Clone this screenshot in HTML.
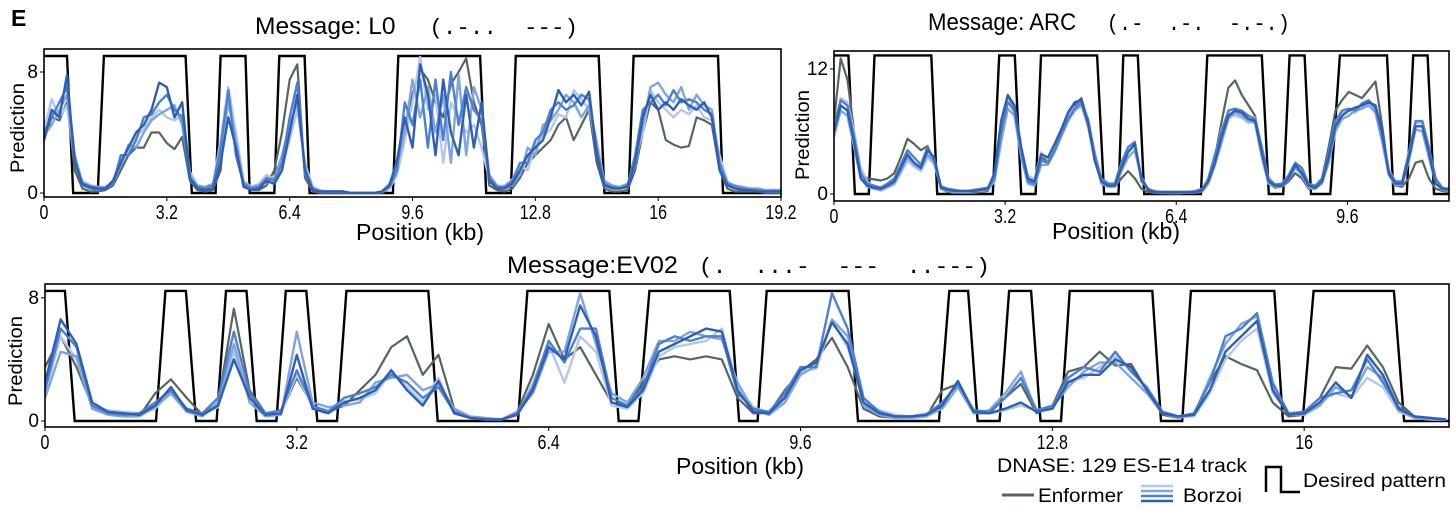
<!DOCTYPE html>
<html><head><meta charset="utf-8"><style>
html,body{margin:0;padding:0;background:#fff;}
svg{display:block;font-family:"Liberation Sans Narrow","Liberation Sans",sans-serif;}
.mono{font-family:"Liberation Mono","DejaVu Sans Mono",monospace;}
</style></head><body>
<svg id="fig" width="1456" height="513" viewBox="0 0 1456 513" xmlns="http://www.w3.org/2000/svg">
<text x="11" y="26" font-size="23" font-weight="bold" font-family="Liberation Sans, sans-serif">E</text>
<text x="255" y="34" font-size="24" textLength="323" lengthAdjust="spacingAndGlyphs">Message: L0 <tspan class="mono" font-size="22" xml:space="preserve">  (.-..  ---)</tspan></text>
<text x="928" y="30" font-size="24" textLength="362" lengthAdjust="spacingAndGlyphs">Message: ARC <tspan class="mono" font-size="22" xml:space="preserve">  (.-  .-.  -.-.)</tspan></text>
<text x="507" y="273" font-size="24" textLength="483" lengthAdjust="spacingAndGlyphs">Message:EV02 <tspan class="mono" font-size="22" xml:space="preserve"> (.  ...-  ---  ..---)</tspan></text>
<g id="p1"></g>
<g id="p2"></g>
<g id="p3"></g>
<g>
<text x="997" y="472" font-size="19" textLength="250" lengthAdjust="spacingAndGlyphs">DNASE: 129 ES-E14 track</text>
<line x1="1002" y1="495" x2="1034" y2="495" stroke="#56665e" stroke-width="3"/>
<text x="1038" y="502" font-size="19" textLength="85" lengthAdjust="spacingAndGlyphs">Enformer</text>
<line x1="1141" y1="486" x2="1173" y2="486" stroke="#b3c7ec" stroke-width="2.5"/>
<line x1="1141" y1="491" x2="1173" y2="491" stroke="#80a4df" stroke-width="2.5"/>
<line x1="1141" y1="496" x2="1173" y2="496" stroke="#4d80cf" stroke-width="2.5"/>
<line x1="1141" y1="501" x2="1173" y2="501" stroke="#2f5fb3" stroke-width="2.5"/>
<text x="1183" y="502" font-size="19" textLength="59" lengthAdjust="spacingAndGlyphs">Borzoi</text>
<path d="M1266,492 L1266,467 L1281,467 L1281,492 L1300,492" fill="none" stroke="#000" stroke-width="2.5"/>
<text x="1303" y="487" font-size="19" textLength="143" lengthAdjust="spacingAndGlyphs">Desired pattern</text>
</g>
</svg>
<script>
// ---------- Panel 1: L0 ----------
const p1Step = 0.2;
const p1PatternX = [0,0.6,0.76,1.40,1.56,3.69,3.85,4.47,4.60,5.25,5.36,6.00,6.13,6.79,6.92,9.09,9.23,11.36,11.52,12.16,12.29,14.45,14.60,15.23,15.36,17.56,17.69,19.2];
const p1PatternOn = [1,1,0,0,1,1,0,0,1,1,0,0,1,1,0,0,1,1,0,0,1,1,0,0,1,1,0,0];
const p1Enformer = [3.5,5.0,4.8,6.0,1.5,0.3,0.1,0.1,0.2,0.5, 1.5,2.5,3.0,3.0,4.0,4.0,3.3,2.9,3.7,0.8, 0.2,0.1,0.2,1.5,7.0,3.5,0.5,0.2,0.2,0.5, 1.5,4.0,7.5,8.5,1.0,0.1,0,0,0,0, 0,0,0,0,0,0.3,2.0,4.0,6.5,8.2, 7.5,6.0,5.0,7.2,8.0,8.9,6.0,4.5,0.5,0.2, 0.1,0.3,1.0,2.0,2.5,3.0,3.5,4.5,5.0,3.5, 4.5,5.5,2.0,0.3,0.1,0.1,0.2,1.5,4.0,6.0, 5.5,3.5,3.2,3.0,3.1,5.0,4.8,4.5,1.5,0.3, 0.1,0.1,0.1,0.1,0,0,0];
const p1Borzoi1 = [3.5,5.5,5.0,7.8,2.0,0.6,0.4,0.3,0.3,0.8, 2.0,3.0,4.0,4.5,5.5,7.3,7.0,5.0,6.0,1.0, 0.3,0.2,0.3,2.0,5.0,3.0,0.4,0.2,0.3,0.8, 0.6,1.5,4.0,6.5,1.5,0.2,0.1,0.1,0.1,0.1, 0,0,0,0,0.1,0.5,2.2,5.0,3.0,8.5, 6.5,2.5,7.5,4.0,2.5,6.5,3.0,6.0,0.8,0.3, 0.3,0.6,1.5,2.5,3.0,3.5,5.0,6.8,6.0,6.5, 5.8,6.7,2.5,0.5,0.3,0.3,0.4,2.0,5.0,6.5, 5.5,6.0,5.5,6.2,5.8,5.5,6.0,5.0,1.5,0.5, 0.3,0.2,0.2,0.1,0.1,0.1,0.1];
const p1Borzoi2 = [4.0,5.0,6.0,7.0,2.5,0.5,0.3,0.2,0.3,0.6, 2.5,2.5,3.5,5.0,5.2,6.0,6.5,5.5,5.0,0.9, 0.4,0.3,0.5,3.0,6.8,2.5,0.6,0.3,0.4,1.0, 0.8,2.0,5.0,7.3,1.2,0.3,0.1,0.1,0.1,0.1, 0,0,0,0,0.1,0.4,1.5,6.0,4.5,7.5, 3.0,7.5,3.5,8.0,4.5,7.0,5.5,4.8,1.0,0.4, 0.4,0.8,2.0,2.0,3.5,4.0,5.5,6.0,5.5,5.8, 6.5,6.2,3.0,0.6,0.4,0.3,0.5,2.5,5.5,6.0, 6.5,5.8,6.8,6.0,6.2,6.0,5.5,5.2,2.0,0.6, 0.4,0.3,0.2,0.2,0.1,0.1,0.1];
const p1Borzoi3 = [3.8,4.5,5.5,6.5,2.0,0.7,0.5,0.4,0.4,0.7, 1.8,3.2,3.0,4.0,4.8,5.2,5.5,5.8,4.5,1.2, 0.5,0.4,0.6,2.5,6.0,3.5,0.7,0.4,0.5,0.9, 1.0,2.5,4.5,6.0,1.8,0.3,0.1,0.1,0.1,0.1, 0,0,0,0,0.1,0.6,1.8,4.0,7.5,5.0, 7.0,4.0,6.5,2.0,7.8,2.5,7.0,5.5,1.2,0.5, 0.3,0.5,1.2,3.0,2.5,4.5,4.8,5.5,6.5,6.0, 5.0,5.8,2.8,0.8,0.5,0.4,0.6,1.8,4.5,7.0, 7.3,6.5,6.0,7.0,5.5,6.5,5.8,5.5,1.8,0.7, 0.5,0.4,0.3,0.3,0.2,0.2,0.2];
const p1Borzoi4 = [4.2,6.2,5.0,5.8,2.4,0.8,0.5,0.4,0.3,0.9, 2.2,2.8,3.8,4.2,5.0,5.5,5.0,4.8,5.2,1.4, 0.5,0.3,0.5,3.5,7.0,4.0,0.8,0.4,0.6,1.2, 0.9,1.8,3.5,5.5,2.0,0.4,0.2,0.1,0.1,0.1, 0,0,0,0,0.1,0.3,1.2,3.5,6.0,9.0, 5.5,6.5,2.0,6.0,5.0,4.0,4.5,3.0,0.9,0.4, 0.5,0.9,1.8,1.5,3.2,3.8,4.2,5.2,5.0,6.8, 6.2,5.5,3.5,0.7,0.4,0.3,0.5,2.2,4.0,6.8, 6.0,5.5,5.0,5.5,5.2,5.8,5.0,4.8,2.5,0.8, 0.3,0.3,0.2,0.2,0.1,0.1,0.1];
const p1XTicks = [0,3.2,6.4,9.6,12.8,16,19.2];
const p1XTickLabels = ["0","3.2","6.4","9.6","12.8","16","19.2"];
const p1YTicks = [0,8];

// ---------- Panel 2: ARC ----------
const p2Step = 0.125;
const p2PatternX = [0,0.269,0.391,0.65,0.757,1.82,1.93,2.97,3.09,3.38,3.50,3.77,3.87,4.92,5.05,5.32,5.41,5.68,5.80,6.86,6.98,8.0,8.13,8.40,8.52,8.80,8.92,9.28,9.46,10.34,10.46,10.71,10.83,11.10,11.22,11.5];
const p2PatternOn = [1,1,0,0,1,1,0,0,1,1,0,0,1,1,0,0,1,1,0,0,1,1,0,0,1,1,0,0,1,1,0,0,1,1,0,0];
const p2Enformer = [7,13,11,6,2,1.5,1.4,1.3, 1.5,2.0,3.5,5.3,4.8,4.2,4.6,3.0, 0.5,0.2,0.1,0.1,0.1,0.1,0.2,0.3, 1.5,6,9.2,8,4,1.5,1.0,3.5, 3.2,4.5,6,7.5,8.5,9.2,7,3.5, 1.5,0.8,0.7,1.5,2.2,1.5,0.5,0.2, 0.1,0.1,0.1,0.1,0.1,0.1,0.1,0.2, 1.0,3.5,7,10.2,10.9,9.5,8.5,7.5, 4.0,1.0,0.6,0.7,1.2,2.0,1.5,0.5, 0.5,1.5,4.5,8.0,9.0,9.8,9.5,9.2, 10.0,10.8,6.5,2.0,0.8,0.7,1.5,3.0, 3.2,1.5,0.5,0.3,0.2];
const p2Borzoi1 = [6,8.5,8,5,1.5,0.8,0.6,0.5, 0.8,1.2,2.5,3.8,3.0,2.5,4.2,3.5, 0.6,0.4,0.3,0.3,0.3,0.3,0.4,0.5, 2,7,9.5,8.5,4.5,1.5,1.2,3.8, 3.5,4.8,6.2,7.8,8.8,9.0,6.8,3.2, 1.2,0.8,0.8,2.5,4.0,4.8,1.5,0.4, 0.2,0.2,0.2,0.2,0.2,0.2,0.2,0.4, 1.2,3.0,5.5,7.5,8.0,7.8,7.2,7.0, 4.0,1.2,0.8,0.8,1.5,2.8,2.0,0.8, 0.6,1.2,3.5,6.5,7.5,8.0,8.3,8.5, 8.8,8.5,6.0,2.0,1.0,1.0,3.5,6.5, 6.5,4.0,1.0,0.5,0.4];
const p2Borzoi2 = [6.5,9.0,8.5,5.5,2,1,0.8,0.6, 1.0,1.5,2.8,4.2,3.5,2.8,4.5,3.2, 0.7,0.5,0.4,0.3,0.3,0.4,0.5,0.6, 1.5,6,8.8,8,4,1.2,1,3.2, 3.0,4.2,5.8,7.2,8.2,8.8,7.2,3.8, 1.5,1.0,1.0,3.0,4.5,5.0,1.2,0.5, 0.2,0.1,0.1,0.1,0.1,0.2,0.2,0.3, 1.5,3.8,6.0,8.0,8.2,8.0,7.5,7.2, 4.5,1.5,0.9,1.0,1.8,3.0,2.5,1.0, 0.8,1.5,4.0,7.0,8.0,8.2,8.0,8.7, 9.0,8.2,5.5,2.2,1.2,1.2,4.0,7.0, 7.0,4.5,1.5,0.6,0.5];
const p2Borzoi3 = [5.5,8,7.5,4.5,1.5,0.7,0.5,0.4, 0.7,1.0,2.2,3.5,2.8,2.4,3.8,3.0, 0.5,0.3,0.2,0.2,0.2,0.3,0.3,0.4, 1.2,5,8.2,7.5,3.5,1.0,0.8,2.8, 2.8,4.0,5.5,7.0,8.0,8.5,6.5,3.5, 1.0,0.7,0.7,2.2,3.5,4.2,1.4,0.4, 0.3,0.2,0.2,0.2,0.2,0.2,0.3,0.5, 1.0,2.8,5.0,7.2,7.8,7.5,7.0,6.8, 3.5,1.0,0.7,0.7,1.4,2.5,1.8,0.6, 0.5,1.0,3.0,6.0,7.2,7.5,8.0,8.2, 8.5,7.8,5.0,1.8,0.8,0.9,3.2,6.2, 6.0,3.5,1.0,0.4,0.3];
const p2Borzoi4 = [6,9.2,8.8,6,2.5,1.2,0.6,0.3, 0.6,0.9,2.0,3.2,2.6,2.2,3.5,2.8, 0.8,0.5,0.3,0.2,0.2,0.3,0.4,0.5, 1.8,6.5,9.0,7.8,3.8,1.8,1.4,4.0, 3.3,4.6,6.0,7.4,8.3,8.6,7.0,4.0, 1.3,0.9,0.9,2.8,4.2,4.5,1.6,0.5, 0.2,0.2,0.1,0.1,0.1,0.2,0.2,0.3, 1.3,3.3,6.2,7.8,7.5,7.3,6.8,7.3, 3.8,1.3,0.8,0.9,1.6,2.9,2.2,0.9, 0.7,1.4,3.8,6.8,7.8,8.0,7.8,8.4, 8.6,8.0,5.8,2.4,1.1,1.1,3.8,6.8, 6.8,4.2,1.2,0.6,0.4];
const p2XTicks = [0,3.2,6.4,9.6];
const p2XTickLabels = ["0","3.2","6.4","9.6"];
const p2YTicks = [0,12];

// ---------- Panel 3: EV02 ----------
const p3Step = 0.2;
const p3PatternX = [0,0.253,0.377,1.41,1.53,1.79,1.92,2.18,2.30,2.56,2.69,2.94,3.06,3.32,3.46,3.71,3.83,4.87,4.99,6.01,6.13,7.17,7.29,7.54,7.68,8.70,8.82,9.055,9.17,10.21,10.33,11.36,11.49,11.73,11.85,12.13,12.25,12.53,12.65,12.91,13.02,14.07,14.18,14.45,14.56,15.62,15.73,15.98,16.12,17.14,17.27,17.84];
const p3PatternOn = [1,1,0,0,1,1,0,0,1,1,0,0,1,1,0,0,1,1,0,0,1,1,0,0,1,1,0,0,1,1,0,0,1,1,0,0,1,1,0,0,1,1,0,0,1,1,0,0,1,1,0,0];
const p3Enformer = [3.5,5.5,3.5,1.0,0.5,0.4,0.3,1.8,2.7,1.5, 0.4,1.2,7.3,2.0,0.5,0.6,2.8,1.0,0.6,1.0, 2.0,3.0,4.8,5.5,3.0,4.3,0.8,0.2,0.1,0.1, 0.6,3.0,6.3,4.0,4.8,3.0,1.2,1.0,2.5,4.0, 4.2,4.0,4.2,4.0,1.5,0.5,0.5,2.0,3.2,4.0, 5.4,3.5,0.8,0.3,0.2,0.2,0.3,2.0,2.4,0.5, 0.5,1.5,2.4,0.5,1.0,3.2,3.5,4.5,3.6,3.7, 2.0,0.4,0.2,0.5,2.5,4.2,3.7,3.3,1.2,0.3, 0.4,1.5,3.5,3.4,4.9,3.5,1.2,0.3,0.2,0.1];
const p3Borzoi1 = [2.5,6.6,5.0,1.2,0.6,0.5,0.4,1.0,2.2,0.7, 0.4,1.0,4.0,1.5,0.4,0.5,4.3,0.8,0.5,1.2, 1.5,2.0,3.3,2.0,1.0,2.6,0.5,0.2,0.1,0.1, 0.4,2.0,4.8,4.0,7.5,5.5,1.2,0.9,2.0,4.5, 5.0,5.5,6.0,5.8,2.0,0.6,0.5,1.5,3.3,3.8, 6.4,5.0,1.2,0.5,0.3,0.3,0.4,1.0,2.6,0.6, 0.5,0.8,1.2,0.6,0.8,2.5,3.0,3.0,4.0,3.5, 2.0,0.5,0.3,0.4,2.0,4.5,5.5,6.5,2.0,0.4, 0.5,1.2,2.5,1.5,4.3,3.0,0.8,0.3,0.2,0.1];
const p3Borzoi2 = [2.0,6.0,4.8,1.0,0.5,0.4,0.5,1.2,2.0,0.8, 0.5,1.5,5.8,1.8,0.5,0.7,3.3,1.0,0.6,1.5, 1.8,2.2,3.0,2.5,1.5,2.2,0.6,0.2,0.1,0.1, 0.5,2.2,5.2,3.8,6.0,6.0,1.5,1.0,2.2,5.0, 5.5,5.2,5.5,5.5,1.8,0.8,0.6,1.8,3.5,3.5, 8.3,6.0,1.5,0.6,0.3,0.3,0.4,1.2,2.4,0.7, 0.6,1.5,2.8,0.7,1.0,2.8,3.5,3.2,4.5,3.2, 2.2,0.6,0.3,0.5,2.5,5.5,6.0,7.0,2.5,0.5, 0.6,1.5,1.8,2.0,4.0,2.5,0.9,0.3,0.2,0.1];
const p3Borzoi3 = [1.5,4.5,4.2,0.8,0.4,0.3,0.3,0.9,1.8,0.6, 0.3,1.2,5.0,1.2,0.3,0.4,5.8,1.2,0.9,1.0, 1.2,2.5,2.8,3.0,2.0,2.4,0.8,0.3,0.2,0.1, 0.6,1.8,4.5,4.5,8.3,5.0,1.8,1.2,2.8,5.2, 5.2,5.8,5.5,5.3,2.5,0.7,0.4,1.2,3.0,3.6, 6.6,5.5,1.0,0.4,0.2,0.2,0.3,0.8,2.2,0.5, 0.7,1.8,3.2,0.6,0.9,2.2,3.2,3.8,3.8,2.8, 1.8,0.5,0.2,0.4,2.8,5.0,6.3,6.8,2.2,0.4, 0.4,1.0,2.2,1.6,3.5,2.8,0.7,0.2,0.1,0.1];
const p3Borzoi4 = [1.8,5.5,4.0,0.9,0.7,0.6,0.5,0.8,1.9,0.7, 0.4,0.9,4.5,1.6,0.4,0.6,3.0,0.9,0.7,1.3, 1.4,1.8,3.2,2.2,1.2,2.8,0.5,0.2,0.1,0.1, 0.4,2.5,5.0,2.5,5.5,4.5,1.0,0.8,1.8,4.2, 4.8,5.0,5.2,6.0,2.2,0.9,0.5,1.6,3.2,3.4, 6.5,4.8,1.3,0.7,0.4,0.3,0.5,1.1,2.5,0.6, 0.5,0.7,1.0,0.7,0.8,2.6,2.8,3.5,4.2,3.3, 2.1,0.6,0.3,0.3,1.8,4.0,5.2,6.0,1.8,0.5, 0.5,1.3,1.8,1.5,2.8,2.2,0.6,0.2,0.1,0.1];
const p3XTicks = [0,3.2,6.4,9.6,12.8,16];
const p3XTickLabels = ["0","3.2","6.4","9.6","12.8","16"];
const p3YTicks = [0,8];

const NS = "http://www.w3.org/2000/svg";
function mk(tag, attrs, parent) {
  const e = document.createElementNS(NS, tag);
  for (const k in attrs) e.setAttribute(k, attrs[k]);
  parent.appendChild(e);
  return e;
}
const COLORS = {enf:"#56665e", b1:"#2f5fb3", b2:"#4d80cf", b3:"#80a4df", b4:"#b3c7ec"};

function drawPanel(cfg) {
  const g = document.getElementById(cfg.id);
  const xs = v => cfg.left + (v / cfg.xmax) * (cfg.right - cfg.left);
  const ys = v => cfg.zeroY - v * cfg.unit;
  const clipId = cfg.id + "-clip";
  const cp = mk("clipPath", {id: clipId}, g);
  mk("rect", {x: cfg.left, y: cfg.top, width: cfg.right - cfg.left, height: cfg.bottom - cfg.top}, cp);
  const plot = mk("g", {"clip-path": "url(#" + clipId + ")"}, g);
  
  

  let d = "";
  cfg.patX.forEach((x, i) => { d += (i ? "L" : "M") + xs(x).toFixed(1) + "," + ys(cfg.patOn[i] * cfg.patHigh).toFixed(1); });
  const pat = mk("path", {d: d, fill: "none", stroke: "#000", "stroke-width": 2.4, "stroke-linejoin": "miter"}, plot);
  
  

  const series = [
    ["enformer-line", cfg.enf, COLORS.enf, 2.2],
    ["borzoi-line-4", cfg.b4, COLORS.b4, 2.4],
    ["borzoi-line-3", cfg.b3, COLORS.b3, 2.4],
    ["borzoi-line-2", cfg.b2, COLORS.b2, 2.4],
    ["borzoi-line-1", cfg.b1, COLORS.b1, 2.4]
  ];
  series.forEach(s => {
    let p = "";
    s[1].forEach((v, i) => { p += (i ? "L" : "M") + xs(i * cfg.step).toFixed(1) + "," + ys(v).toFixed(1); });
    const ln = mk("path", {d: p, fill: "none", stroke: s[2], "stroke-width": s[3], "stroke-linejoin": "round"}, plot);
    
    
  });

  const fr = mk("rect", {x: cfg.left, y: cfg.top, width: cfg.right - cfg.left, height: cfg.bottom - cfg.top, fill: "none", stroke: "#000", "stroke-width": 1.6}, g);
  
  

  cfg.xt.forEach((t, i) => {
    const x = xs(t);
    const tk = mk("line", {x1: x, x2: x, y1: cfg.bottom, y2: cfg.bottom + 4, stroke: "#000", "stroke-width": 1}, g);
    
    
    const lb = mk("text", {x: x, y: cfg.bottom + 22, "font-size": 20, "text-anchor": "middle", transform: "translate(" + x + ",0) scale(0.8,1) translate(" + (-x) + ",0)"}, g);
    lb.textContent = cfg.xtl[i];
    
    
  });
  cfg.yt.forEach(t => {
    const y = ys(t);
    const tk = mk("line", {x1: cfg.left - 4, x2: cfg.left, y1: y, y2: y, stroke: "#000", "stroke-width": 1}, g);
    
    
    const lb = mk("text", {x: cfg.left - 6, y: y + 6, "font-size": 19, "text-anchor": "end"}, g);
    lb.textContent = String(t);
    
    
  });
  const xl = mk("text", {x: cfg.xlX - 64, y: cfg.xlY, "font-size": 23, textLength: 128, lengthAdjust: "spacingAndGlyphs", "font-family": "Liberation Sans, sans-serif"}, g);
  xl.textContent = "Position (kb)";
  
  
  const yl = mk("text", {x: -45, y: 0, "font-size": 19, textLength: 90, lengthAdjust: "spacingAndGlyphs", "font-family": "Liberation Sans, sans-serif", transform: "translate(" + cfg.ylX + "," + cfg.ylY + ") rotate(-90)"}, g);
  yl.textContent = "Prediction";
  
  
}

drawPanel({id:"p1", name:"l0", left:44, right:781, top:49, bottom:197, xmax:19.2, zeroY:193, unit:15.125, patHigh:9.06,
  step:p1Step, patX:p1PatternX, patOn:p1PatternOn, enf:p1Enformer, b1:p1Borzoi1, b2:p1Borzoi2, b3:p1Borzoi3, b4:p1Borzoi4,
  xt:p1XTicks, xtl:p1XTickLabels, yt:p1YTicks, xlX:420, xlY:240, ylX:24, ylY:128});
drawPanel({id:"p2", name:"arc", left:834, right:1449, top:51, bottom:201, xmax:11.5, zeroY:194, unit:10.42, patHigh:13.3,
  step:p2Step, patX:p2PatternX, patOn:p2PatternOn, enf:p2Enformer, b1:p2Borzoi1, b2:p2Borzoi2, b3:p2Borzoi3, b4:p2Borzoi4,
  xt:p2XTicks, xtl:p2XTickLabels, yt:p2YTicks, xlX:1116, xlY:239, ylX:809, ylY:135});
drawPanel({id:"p3", name:"ev02", left:45, right:1449, top:284, bottom:427, xmax:17.84, zeroY:421, unit:15.4, patHigh:8.45,
  step:p3Step, patX:p3PatternX, patOn:p3PatternOn, enf:p3Enformer, b1:p3Borzoi1, b2:p3Borzoi2, b3:p3Borzoi3, b4:p3Borzoi4,
  xt:p3XTicks, xtl:p3XTickLabels, yt:p3YTicks, xlX:740, xlY:474, ylX:22, ylY:361});
</script>
</body></html>
